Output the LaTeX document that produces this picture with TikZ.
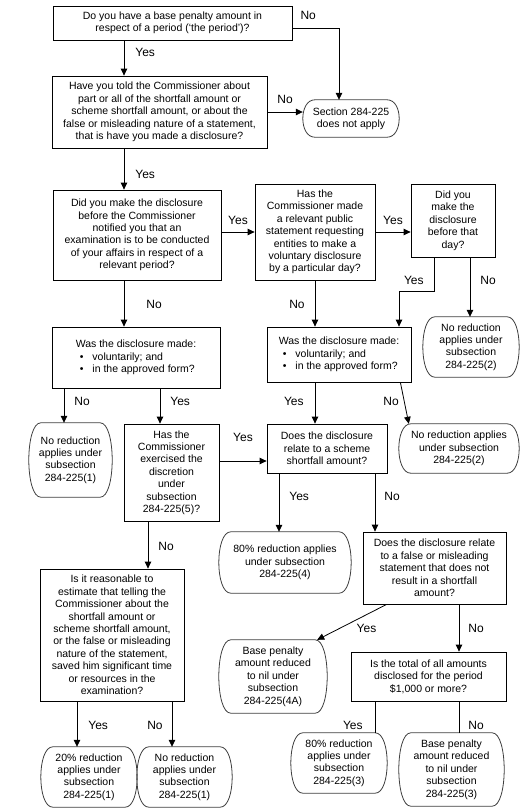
\documentclass[tikz,border=0pt]{standalone}
\usepackage{fontspec}
\setmainfont{Liberation Sans}
\usetikzlibrary{arrows.meta, calc}
\tikzstyle{question} = [rectangle, draw=black, line width=0.8pt, inner sep=0pt, align=center, font=\fontsize{10.5}{12.4}\selectfont]
\tikzstyle{result} = [rectangle, inner sep=0pt, align=center, font=\fontsize{10.5}{12.4}\selectfont]
\tikzstyle{arrow} = [line width=0.8pt,->,>={Triangle[length=7pt,width=6.5pt]}]
\tikzstyle{conector} = [line width=0.8pt]
\tikzstyle{answer} = [font=\fontsize{12}{14}\selectfont, inner sep=1pt]
\newcommand{\bordeterm}[1]{% borde redondeado de un resultado
	\draw[line width=0.8pt, black!75] let \p1=(#1.north west), \p2=(#1.south east) in
		(\x1+12pt,\y1) -- (\x2-12pt,\y1) .. controls (\x2+4pt,\y1) and (\x2+4pt,\y2) .. (\x2-12pt,\y2)
		-- (\x1+12pt,\y2) .. controls (\x1-4pt,\y2) and (\x1-4pt,\y1) .. cycle;}
\newcommand{\bulletline}[1]{\hspace*{4pt}\textbullet\hspace{9pt}#1}

\begin{document}
\begin{tikzpicture}[x=1pt, y=1pt]
		\path[use as bounding box, fill=white] (0,0) rectangle (525,-812);
		\node (base) [question, minimum width=239pt, minimum height=34pt] at (172.5,-23) {
			Do you have a base penalty amount in\\
			respect of a period (`the period')?
		};
		\node (told) [question, node distance=89pt, below of=base, xshift=-13pt, minimum width=215pt, minimum height=72pt] {
			Have you told the Commissioner about\\
			part or all of the shortfall amount or\\
			scheme shortfall amount, or about the\\
			false or misleading nature of a statement,\\
			that is have you made a disclosure?
		};
		\node (noapply) [result, node distance=191.5pt, right of=told, yshift=-6.5pt, minimum width=96pt, minimum height=37pt] {
			Section 284-225\\does not apply
		};
		\node (before) [question, node distance=123pt, below of=told, xshift=-22.5pt, minimum width=168pt, minimum height=90pt] {
			Did you make the disclosure\\
			before the Commissioner\\
			notified you that an\\
			examination is to be conducted\\
			of your affairs in respect of a\\
			relevant period?
		};
		\node (public) [question, node distance=178pt, right of=before, yshift=3pt, minimum width=120pt, minimum height=96pt] {
			Has the\\Commissioner made\\a relevant public\\statement requesting\\entities to make a\\voluntary disclosure\\by a particular day?
		};
		\node (beforeday) [question, node distance=138pt, right of=public, yshift=11.5pt, minimum width=84pt, minimum height=73pt] {
			Did you\\make the\\disclosure\\before that\\day?
		};
		\node (form1) [question, node distance=122.5pt, below of=before, xshift=-1pt, minimum width=168pt, minimum height=61pt, align=left] {
			Was the disclosure made:\\
			\bulletline{voluntarily; and}\\
			\bulletline{in the approved form?}
		};
		\node (form2) [question, node distance=122.5pt, below of=public, xshift=24pt, minimum width=144pt, minimum height=55pt, align=left] {
			Was the disclosure made:\\
			\bulletline{voluntarily; and}\\
			\bulletline{in the approved form?}
		};
		\node (nored2a) [result, node distance=126.5pt, below of=beforeday, xshift=18pt, minimum width=96pt, minimum height=60pt] {
			No reduction\\applies under\\subsection\\284-225(2)
		};
		\node (nored1a) [result, node distance=102.5pt, below of=form1, xshift=-65.5pt, minimum width=83pt, minimum height=74pt] {
			No reduction\\applies under\\subsection\\284-225(1)
		};
		\node (discretion) [question, node distance=115pt, below of=form1, xshift=35.5pt, minimum width=95pt, minimum height=97pt] {
			Has the\\Commissioner\\exercised the\\discretion\\under\\subsection\\284-225(5)?
		};
		\node (scheme) [question, node distance=155.5pt, right of=discretion, yshift=24pt, minimum width=120pt, minimum height=49pt] {
			Does the disclosure\\relate to a scheme\\shortfall amount?
		};
		\node (nored2b) [result, node distance=132pt, right of=scheme, minimum width=120pt, minimum height=49pt] {
			No reduction applies\\under subsection\\284-225(2)
		};
		\node (red4) [result, node distance=114pt, below of=scheme, xshift=-42pt, minimum width=132pt, minimum height=61pt] {
			80\% reduction applies\\under subsection\\284-225(4)
		};
		\node (misleading) [question, node distance=119.5pt, below of=nored2b, xshift=-24.5pt, minimum width=143pt, minimum height=72pt] {
			Does the disclosure relate\\to a false or misleading\\statement that does not\\result in a shortfall\\amount?
		};
		\node (reasonable) [question, node distance=162.5pt, below of=discretion, xshift=-59.5pt, minimum width=144pt, minimum height=132pt] {
			Is it reasonable to\\
			estimate that telling the\\
			Commissioner about the\\
			shortfall amount or\\
			scheme shortfall amount,\\
			or the false or misleading\\
			nature of the statement,\\
			saved him significant time\\
			or resources in the\\
			examination?
		};
		\node (nil4a) [result, node distance=114pt, below of=red4, xshift=-12pt, minimum width=108pt, minimum height=73pt] {
			Base penalty\\amount reduced\\to nil under\\subsection\\284-225(4A)
		};
		\node (total) [question, node distance=108.5pt, below of=misleading, xshift=-6pt, minimum width=155pt, minimum height=49pt] {
			Is the total of all amounts\\disclosed for the period\\\$1,000 or more?
		};
		\node (red1) [result, node distance=142pt, below of=reasonable, xshift=-23pt, minimum width=96pt, minimum height=60pt] {
			20\% reduction\\applies under\\subsection\\284-225(1)
		};
		\node (nored1b) [result, node distance=95.5pt, right of=red1, minimum width=95pt, minimum height=60pt] {
			No reduction\\applies under\\subsection\\284-225(1)
		};
		\node (red3) [result, node distance=86.5pt, below of=total, xshift=-89.5pt, minimum width=96pt, minimum height=60pt] {
			80\% reduction\\applies under\\subsection\\284-225(3)
		};
		\node (nil3) [result, node distance=93pt, below of=total, xshift=23pt, minimum width=105pt, minimum height=73pt] {
			Base penalty\\amount reduced\\to nil under\\subsection\\284-225(3)
		};
		\foreach \t in {noapply, nored2a, nored1a, nored2b, red4, nil4a, red1, nored1b, red3, nil3}
			{\bordeterm{\t}}
		\draw [arrow] ([yshift=-5pt]base.east) -| node[answer, pos=0.17, above=7pt] {No} ([xshift=-12pt]noapply.north);
		\draw [arrow] ([xshift=-48.5pt]base.south) -- node[answer, pos=0.33, right=10pt] {Yes} ([xshift=-35.5pt]told.north);
		\draw [arrow] (told.east) -- node[answer, above=7pt] {No} ([yshift=6.5pt]noapply.west);
		\draw [arrow] ([xshift=-35.5pt]told.south) -- node[answer, pos=0.62, right=10pt] {Yes} ([xshift=-13pt]before.north);
		\draw [arrow] ([yshift=3pt]before.east) -- node[answer, above=6pt] {Yes} (public.west);
		\draw [arrow] (public.east) -- node[answer, above=6pt] {Yes} ([yshift=-11.5pt]beforeday.west);
		\draw [arrow] ([xshift=-19pt]beforeday.south) |- node[answer, pos=0.33, left=9pt] {Yes} ([xshift=60pt, yshift=35pt]form2.north) -- ([xshift=60pt]form2.north);
		\draw [arrow] ([xshift=17pt]beforeday.south) -- node[answer, pos=0.38, right=9pt] {No} ([xshift=-1pt]nored2a.north);
		\draw [arrow] ([xshift=-13pt]before.south) -- node[answer, pos=0.51, right=21pt] {No} ([xshift=-12pt]form1.north);
		\draw [arrow] (public.south) -- node[answer, pos=0.51, left=9pt] {No} ([xshift=-24pt]form2.north);
		\draw [arrow] ([xshift=-72pt]form1.south) -- node[answer, pos=0.37, right=9pt] {No} ([xshift=-6.5pt]nored1a.north);
		\draw [arrow] ([xshift=24pt]form1.south) -- node[answer, pos=0.36, right=9pt] {Yes} ([xshift=-11.5pt]discretion.north);
		\draw [arrow] ([xshift=-24pt]form2.south) -- node[answer, pos=0.45, left=10pt] {Yes} ([xshift=-12pt]scheme.north);
		\draw [arrow] ([xshift=-11pt]form2.south east) -- node[answer, pos=0.45, left=4pt] {No} ([xshift=10pt]nored2b.north west);
		\draw [arrow] ([yshift=11.5pt]discretion.east) -- node[answer, above=18pt] {Yes} ([yshift=-12.5pt]scheme.west);
		\draw [arrow] ([xshift=-48pt]scheme.south) -- node[answer, pos=0.39, right=9pt] {Yes} ([xshift=-6pt]red4.north);
		\draw [arrow] ([xshift=48pt]scheme.south) -- node[answer, pos=0.39, right=8pt] {No} ([xshift=-59.5pt]misleading.north);
		\draw [arrow] ([xshift=-23.5pt]discretion.south) -- node[answer, pos=0.52, right=9pt] {No} ([xshift=36pt]reasonable.north);
		\draw [arrow] ([xshift=24pt]misleading.south west) -- node[answer, pos=0.29, below=8pt] {Yes} ([xshift=-10pt]nil4a.north east);
		\draw [arrow] ([xshift=24.5pt]misleading.south) -- node[answer, pos=0.5, right=8pt] {No} ([xshift=30.5pt]total.north);
		\draw [arrow] ([xshift=-35pt]reasonable.south) -- node[answer, pos=0.52, right=10pt] {Yes} ([xshift=-12pt]red1.north);
		\draw [arrow] ([xshift=60pt]reasonable.south) -- node[answer, pos=0.52, left=8pt] {No} ([xshift=-12.5pt]nored1b.north);
		\draw [conector] ([xshift=-53.5pt]total.south) -- node[answer, pos=0.75, left=11pt] {Yes} ([xshift=36pt]red3.north);
		\draw [conector] ([xshift=30.5pt]total.south) -- node[answer, pos=0.75, right=8pt] {No} ([xshift=7.5pt]nil3.north);
	\end{tikzpicture}
\end{document}
